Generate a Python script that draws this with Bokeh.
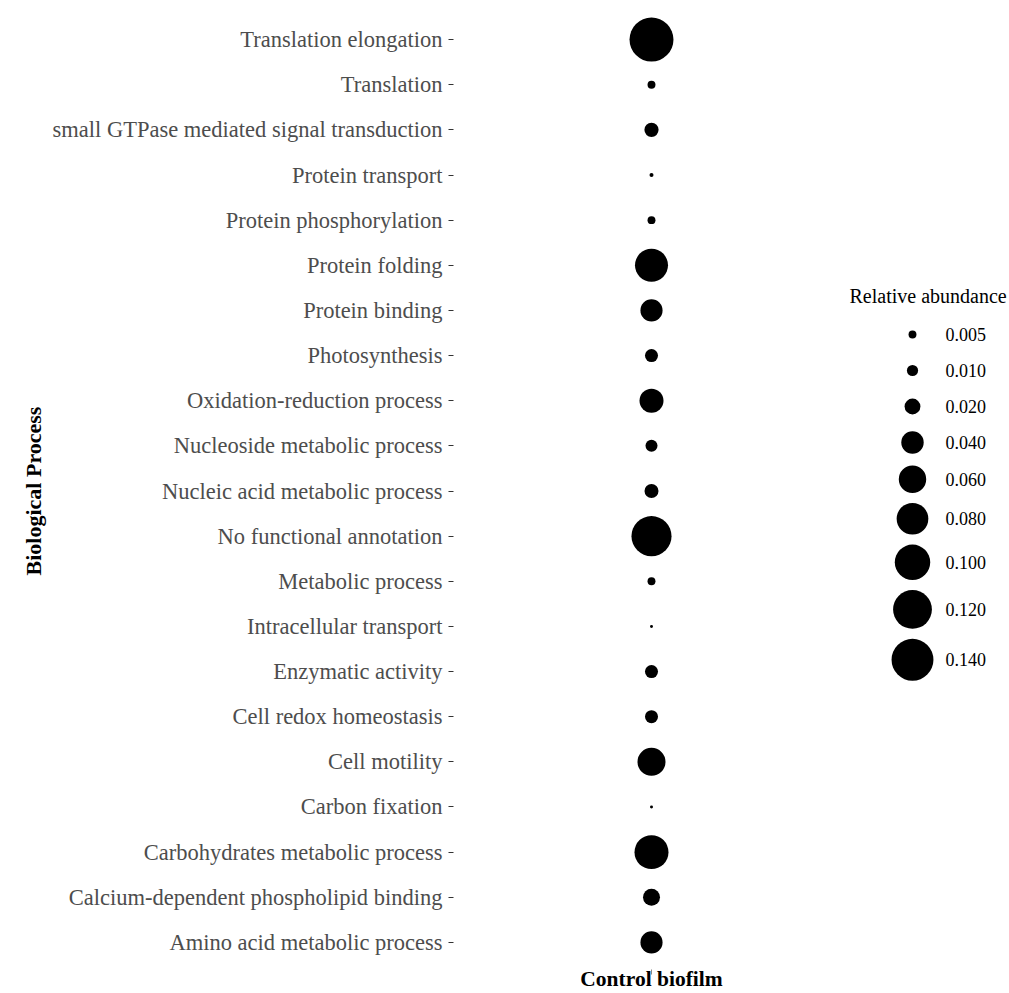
import math
from bokeh.plotting import figure
from bokeh.models import FactorRange, Range1d, ColumnDataSource
from bokeh.layouts import row
from bokeh.embed import file_html
from bokeh.resources import INLINE
from bokeh.core.properties import value

# ---- data ----
processes = [
    "Translation elongation",
    "Translation",
    "small GTPase mediated signal transduction",
    "Protein transport",
    "Protein phosphorylation",
    "Protein folding",
    "Protein binding",
    "Photosynthesis",
    "Oxidation-reduction process",
    "Nucleoside metabolic process",
    "Nucleic acid metabolic process",
    "No functional annotation",
    "Metabolic process",
    "Intracellular transport",
    "Enzymatic activity",
    "Cell redox homeostasis",
    "Cell motility",
    "Carbon fixation",
    "Carbohydrates metabolic process",
    "Calcium-dependent phospholipid binding",
    "Amino acid metabolic process",
]
abundance = [0.154, 0.005, 0.016, 0.0013, 0.005, 0.087, 0.039, 0.0135, 0.046,
             0.0115, 0.0156, 0.128, 0.005, 0.0007, 0.0135, 0.0135, 0.0625,
             0.0007, 0.092, 0.023, 0.039]
sample_name = "Control biofilm"
legend_breaks = [0.005, 0.010, 0.020, 0.040, 0.060, 0.080, 0.100, 0.120, 0.140]
legend_labels = ["0.005", "0.010", "0.020", "0.040", "0.060", "0.080", "0.100", "0.120", "0.140"]
legend_title = "Relative abundance"
y_title = "Biological Process"

# ---- size scale (area proportional) ----
SIZE_K = 112.0
def to_size(v):
    return SIZE_K * math.sqrt(v)

SERIF = "Liberation Serif"
H = 993
MAIN_W = 849
LEG_W = 160
FRAME_TOP = 12
FRAME_BOTTOM = 969

src = ColumnDataSource(dict(
    sample=[sample_name] * len(processes),
    process=processes,
    abundance=abundance,
    size=[to_size(v) for v in abundance],
))

p = figure(
    width=MAIN_W, height=H,
    x_range=FactorRange(factors=[sample_name]),
    y_range=FactorRange(factors=processes[::-1], range_padding=0.1,
                        range_padding_units="absolute"),
    output_backend="svg", toolbar_location=None,
    min_border_left=453, min_border_right=0, min_border_top=FRAME_TOP,
    min_border_bottom=0,
    background_fill_color="white", border_fill_color="white",
)
p.outline_line_color = None
p.xgrid.visible = False
p.ygrid.visible = False
p.scatter(x="sample", y="process", size="size", source=src, marker="circle",
          fill_color="black", line_color=None)

ya = p.yaxis[0]
ya.axis_line_color = None
ya.major_tick_line_color = "#333333"
ya.major_tick_out = 5
ya.major_tick_in = 0
ya.major_label_standoff = 6
ya.major_label_text_font = SERIF
ya.major_label_text_font_size = "22.5px"
ya.major_label_text_color = "#4D4D4D"
ya.axis_label = y_title
ya.axis_label_text_font = SERIF
ya.axis_label_text_font_size = "22px"
ya.axis_label_text_font_style = "bold"
ya.axis_label_text_color = "black"
ya.axis_label_standoff = 4

xa = p.xaxis[0]
xa.axis_line_color = None
xa.major_tick_line_color = "#888888"
xa.major_tick_out = 5
xa.major_tick_in = 0
xa.major_label_standoff = -8
xa.major_label_text_font = SERIF
xa.major_label_text_font_size = "21.5px"
xa.major_label_text_font_style = "bold"
xa.major_label_text_color = "black"

# ---- legend panel (frame aligned with main frame; y in page pixels) ----
lg = figure(
    width=LEG_W, height=H,
    x_range=Range1d(0, LEG_W), y_range=Range1d(FRAME_BOTTOM, FRAME_TOP),
    output_backend="svg", toolbar_location=None,
    min_border=0, min_border_top=FRAME_TOP,
    x_axis_location=None, y_axis_location=None,
    background_fill_color="white", border_fill_color="white",
)
lg.outline_line_color = None
lg.grid.visible = False

leg_sizes = [to_size(v) for v in legend_breaks]
key_h = [max(s + 10, 36) for s in leg_sizes]
ys = [334.0]
for i in range(1, len(key_h)):
    ys.append(ys[-1] + (key_h[i - 1] + key_h[i]) / 2)

lsrc = ColumnDataSource(dict(
    x=[63] * len(legend_breaks), tx=[96] * len(legend_breaks),
    y=ys, size=leg_sizes, label=legend_labels,
))
lg.scatter(x="x", y="y", size="size", source=lsrc, marker="circle",
           fill_color="black", line_color=None)
lg.text(x="tx", y="y", text="label", source=lsrc,
        text_font=value(SERIF), text_font_size=value("18px"),
        text_baseline="middle", text_align="left", text_color="black")
lg.text(x=[0], y=[295], text=[legend_title],
        text_font=value(SERIF), text_font_size=value("20px"),
        text_baseline="middle", text_align="left", text_color="black")

layout = row(p, lg)
open("out.html", "w").write(file_html(layout, INLINE))
